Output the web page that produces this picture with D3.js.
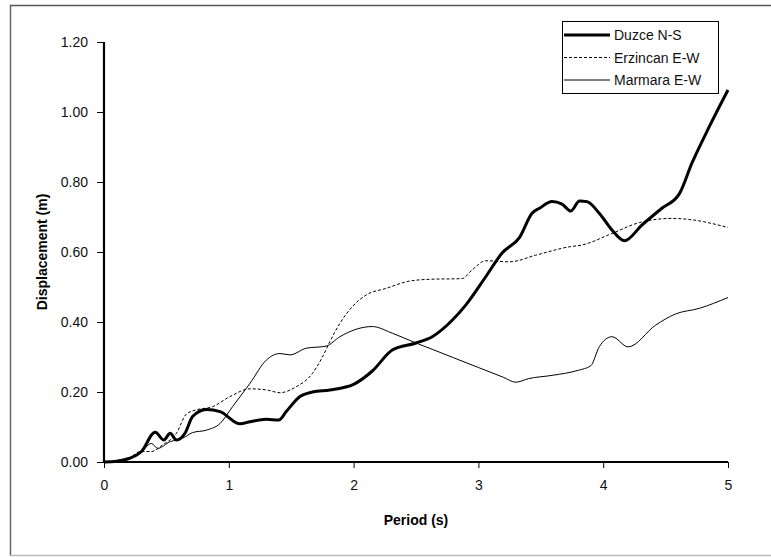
<!DOCTYPE html>
<html>
<head>
<meta charset="utf-8">
<script src="https://cdn.jsdelivr.net/npm/d3@7"></script>
<style>
  body { margin: 0; background: #fff; }
  text { font-family: "Liberation Sans", Arial, sans-serif; }
</style>
</head>
<body>
<div class="chart_container"></div>
<script>
// series: [period (s), displacement (m)]
const duzceT = [0, 0.1, 0.2, 0.3, 0.41, 0.48, 0.53, 0.58, 0.65, 0.71, 0.82, 0.93, 1.09, 1.17, 1.3, 1.4, 1.46, 1.57, 1.67, 1.81, 2.0, 2.15, 2.31, 2.5, 2.63, 2.79, 2.9, 3.06, 3.19, 3.33, 3.43, 3.49, 3.59, 3.67, 3.74, 3.81, 3.87, 3.97, 4.07, 4.17, 4.31, 4.47, 4.61, 4.71, 4.85, 5.0];
const duzceV = [0, 0.002, 0.01, 0.03, 0.085, 0.063, 0.082, 0.063, 0.083, 0.13, 0.15, 0.144, 0.109, 0.115, 0.122, 0.12, 0.144, 0.187, 0.2, 0.206, 0.222, 0.26, 0.32, 0.34, 0.358, 0.405, 0.449, 0.53, 0.597, 0.642, 0.711, 0.725, 0.744, 0.737, 0.717, 0.746, 0.744, 0.71, 0.663, 0.632, 0.677, 0.725, 0.766, 0.853, 0.958, 1.063];

const erzT = [0, 0.1, 0.2, 0.29, 0.38, 0.47, 0.58, 0.66, 0.74, 0.87, 1.01, 1.17, 1.3, 1.41, 1.54, 1.67, 1.75, 1.81, 1.89, 1.99, 2.1, 2.26, 2.45, 2.61, 2.87, 2.95, 3.06, 3.25, 3.46, 3.73, 3.83, 4.07, 4.29, 4.55, 4.69, 5.0];
const erzV = [0, 0.002, 0.01, 0.03, 0.03, 0.049, 0.082, 0.137, 0.149, 0.158, 0.187, 0.209, 0.206, 0.198, 0.215, 0.253, 0.3, 0.344, 0.396, 0.444, 0.477, 0.496, 0.517, 0.522, 0.524, 0.549, 0.575, 0.572, 0.591, 0.615, 0.62, 0.653, 0.684, 0.696, 0.693, 0.67];

const marT = [0, 0.1, 0.2, 0.29, 0.38, 0.43, 0.53, 0.63, 0.71, 0.82, 0.93, 1.03, 1.17, 1.3, 1.41, 1.49, 1.62, 1.78, 1.89, 2.15, 2.31, 2.5, 2.63, 2.8, 3.0, 3.2, 3.3, 3.4, 3.6, 3.8, 3.9, 3.97, 4.07, 4.2, 4.42, 4.58, 4.77, 5.0];
const marV = [0, 0.002, 0.01, 0.025, 0.053, 0.039, 0.058, 0.068, 0.084, 0.091, 0.11, 0.158, 0.225, 0.291, 0.31, 0.306, 0.325, 0.331, 0.358, 0.387, 0.368, 0.34, 0.322, 0.298, 0.27, 0.242, 0.228, 0.238, 0.248, 0.262, 0.275, 0.33, 0.358, 0.329, 0.391, 0.423, 0.439, 0.47];

const seriesNames = ["Duzce N-S", "Erzincan E-W", "Marmara E-W"];
const xTicks = [0, 1, 2, 3, 4, 5];
const yTicks = [0, 0.2, 0.4, 0.6, 0.8, 1.0, 1.2];

const width = 771;
const height = 557;
const margin = { left: 104, right: 43, top: 42, bottom: 95 };

const zip = (t, v) => t.map((d, i) => [d, v[i]]);
const series = [
  { name: seriesNames[0], pts: zip(duzceT, duzceV), w: 3, dash: null },
  { name: seriesNames[1], pts: zip(erzT, erzV), w: 1, dash: "3,2" },
  { name: seriesNames[2], pts: zip(marT, marV), w: 1, dash: null },
];

function drawChart() {
  const container = document.querySelector('div.chart_container');
  container.innerHTML = `<svg width=${width} height=${height}></svg>`;
  const svg = d3.select(container).select('svg');

  // outer frame
  svg.append('line').attr('x1', 10.5).attr('x2', 10.5).attr('y1', 5).attr('y2', 556).attr('stroke', '#666').attr('stroke-width', 1.5);
  svg.append('line').attr('x1', 10).attr('x2', width).attr('y1', 5.5).attr('y2', 5.5).attr('stroke', '#555').attr('stroke-width', 1.5);
  svg.append('line').attr('x1', 10).attr('x2', width).attr('y1', 555.5).attr('y2', 555.5).attr('stroke', '#bbb').attr('stroke-width', 1.5);

  const x = d3.scaleLinear().domain([0, 5]).range([margin.left, width - margin.right]);
  const y = d3.scaleLinear().domain([0, 1.2]).range([height - margin.bottom, margin.top]);

  const xAxis = svg.append('g')
    .attr('transform', `translate(0,${y(0)})`)
    .call(d3.axisBottom(x).tickValues(xTicks).tickFormat(d3.format('d')).tickSize(6).tickPadding(12));
  const yAxis = svg.append('g')
    .attr('transform', `translate(${x(0)},0)`)
    .call(d3.axisLeft(y).tickValues(yTicks).tickFormat(d3.format('.2f')).tickSize(7).tickPadding(9));

  [xAxis, yAxis].forEach(g => {
    g.select('.domain').attr('stroke', '#000').attr('stroke-width', 2.2);
    g.selectAll('.tick line').attr('stroke', '#000').attr('stroke-width', 1);
    g.selectAll('.tick text').attr('font-size', 14).attr('fill', '#111')
      .style('font-family', '"Liberation Sans", Arial, sans-serif');
  });
  xAxis.select('.domain').attr('d', `M${x(0)},0H${x(5)}`);
  yAxis.select('.domain').attr('d', `M0,${y(1.2)}V${y(0)}`);

  const line = d3.line()
    .x(d => x(d[0]))
    .y(d => y(d[1]))
    .curve(d3.curveMonotoneX);

  svg.selectAll('path.series')
    .data(series).enter().append('path')
    .attr('class', 'series')
    .attr('d', d => line(d.pts))
    .attr('fill', 'none')
    .attr('stroke', '#000')
    .attr('stroke-width', d => d.w)
    .attr('stroke-dasharray', d => d.dash)
    .attr('stroke-linejoin', 'round');

  // axis titles
  svg.append('text')
    .attr('x', (x(0) + x(5)) / 2)
    .attr('y', 525)
    .attr('text-anchor', 'middle')
    .attr('font-size', 14)
    .attr('font-weight', 'bold')
    .text('Period (s)');
  svg.append('text')
    .attr('transform', `translate(47,${(y(0) + y(1.2)) / 2}) rotate(-90)`)
    .attr('text-anchor', 'middle')
    .attr('font-size', 14)
    .attr('font-weight', 'bold')
    .text('Displacement  (m)');

  // legend
  const lg = svg.append('g');
  lg.append('rect')
    .attr('x', 562.5).attr('y', 21.5).attr('width', 156).attr('height', 72)
    .attr('fill', '#fff').attr('stroke', '#000').attr('stroke-width', 1);
  const rows = lg.selectAll('g.row')
    .data(series).enter().append('g')
    .attr('transform', (d, i) => `translate(0,${35 + i * 22.5})`);
  rows.append('line')
    .attr('x1', 564).attr('x2', 610).attr('y1', 0).attr('y2', 0)
    .attr('stroke', '#000')
    .attr('stroke-width', d => d.w)
    .attr('stroke-dasharray', d => d.dash);
  rows.append('text')
    .attr('x', 614).attr('y', 5)
    .attr('font-size', 14)
    .attr('fill', '#111')
    .text(d => d.name);
}

drawChart();
</script>
</body>
</html>
